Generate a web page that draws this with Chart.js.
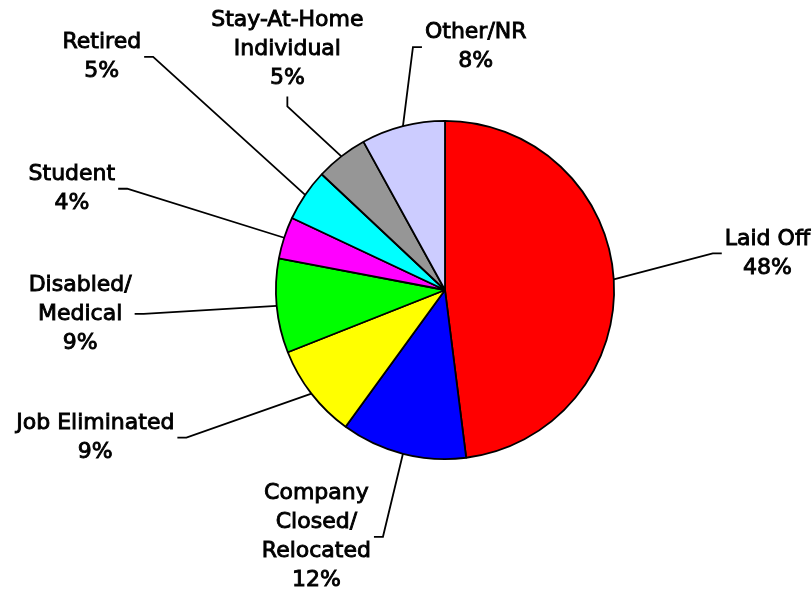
<!DOCTYPE html>
<html>
<head>
<meta charset="utf-8">
<title>Reasons for Job Loss</title>
<script src="https://cdn.jsdelivr.net/npm/chart.js@4.4.1/dist/chart.umd.min.js"></script>
<style>
  html, body { margin: 0; padding: 0; background: #fff; }
  #wrap { width: 812px; height: 590px; }
</style>
</head>
<body>
<div id="wrap"><canvas id="pieChart" width="812" height="590"></canvas></div>
<script>
// Slices, clockwise from 12 o'clock
const categories = [
  "Laid Off",
  "Company Closed/Relocated",
  "Job Eliminated",
  "Disabled/Medical",
  "Student",
  "Retired",
  "Stay-At-Home Individual",
  "Other/NR",
];
const percentages = [48, 12, 9, 9, 4, 5, 5, 8];
// How each category name wraps in its callout
const labelLines = [
  ["Laid Off"],
  ["Company", "Closed/", "Relocated"],
  ["Job Eliminated"],
  ["Disabled/", "Medical"],
  ["Student"],
  ["Retired"],
  ["Stay-At-Home", "Individual"],
  ["Other/NR"],
];
const sliceColors = [
  "#ff0000",
  "#0000ff",
  "#ffff00",
  "#00ff00",
  "#ff00ff",
  "#00ffff",
  "#969696",
  "#ccccff",
];

// Callout placement: elbow offset from the slice edge, and stub direction
const calloutLayout = [
  { dx: 99, dy: -26, stub: "right" },
  { dx: -20, dy: 83, stub: "left" },
  { dx: -125, dy: 44, stub: "left" },
  { dx: -133, dy: 8, stub: "left" },
  { dx: -157, dy: -49, stub: "left" },
  { dx: -152, dy: -138, stub: "left" },
  { dx: -54, dy: -50, stub: "up" },
  { dx: 10, dy: -79, stub: "right" },
];

const labelFont = "22px 'DejaVu Sans', Verdana, sans-serif";
const lineHeight = 29;

// Draws the leader lines and the category / percent text
const calloutPlugin = {
  id: "callouts",
  afterDatasetsDraw(chart) {
    const ctx = chart.ctx;
    const meta = chart.getDatasetMeta(0);
    ctx.save();
    ctx.font = labelFont;
    ctx.fillStyle = "#000";
    ctx.strokeStyle = "#000";
    ctx.lineWidth = 1.8;
    ctx.lineJoin = "miter";
    ctx.textAlign = "center";
    ctx.textBaseline = "middle";

    meta.data.forEach((arc, i) => {
      const { x, y, startAngle, endAngle, outerRadius } = arc.getProps(
        ["x", "y", "startAngle", "endAngle", "outerRadius"],
        true
      );
      const mid = (startAngle + endAngle) / 2;
      const ex = x + Math.cos(mid) * outerRadius;
      const ey = y + Math.sin(mid) * outerRadius;
      const layout = calloutLayout[i];
      const bx = ex + layout.dx;
      const by = ey + layout.dy;
      let sx = bx;
      let sy = by;
      if (layout.stub === "right") sx = bx + 9;
      else if (layout.stub === "left") sx = bx - 9;
      else sy = by - 10;

      ctx.lineWidth = 1.8;
      ctx.beginPath();
      ctx.moveTo(ex, ey);
      ctx.lineTo(bx, by);
      ctx.lineTo(sx, sy);
      ctx.stroke();

      const lines = labelLines[i].concat([percentages[i] + "%"]);
      const blockW = Math.max(...lines.map((t) => ctx.measureText(t).width));
      const n = lines.length;
      let cx, firstY;
      if (layout.stub === "right") {
        cx = sx + 3 + blockW / 2;
        firstY = sy - ((n - 1) * lineHeight) / 2;
      } else if (layout.stub === "left") {
        cx = sx - 3 - blockW / 2;
        firstY = sy - ((n - 1) * lineHeight) / 2;
      } else {
        cx = sx;
        firstY = sy - 18 - (n - 1) * lineHeight;
      }
      // thin outline thickens the regular face to the semi-bold look
      ctx.lineWidth = 0.9;
      lines.forEach((t, k) => {
        ctx.fillText(t, cx, firstY + k * lineHeight);
        ctx.strokeText(t, cx, firstY + k * lineHeight);
      });
    });
    ctx.restore();
  },
};

const ctx = document.getElementById("pieChart").getContext("2d");

const pieChart = new Chart(ctx, {
  type: "pie",
  data: {
    labels: categories,
    datasets: [
      {
        data: percentages,
        backgroundColor: sliceColors,
        borderColor: "#000",
        borderWidth: 1.8,
        hoverOffset: 0,
      },
    ],
  },
  options: {
    responsive: false,
    animation: false,
    events: [],
    layout: {
      padding: {
        top: 120,
        bottom: 130,
        left: 275,
        right: 197,
      },
    },
    plugins: {
      legend: { display: false },
      tooltip: { enabled: false },
      title: { display: false },
    },
  },
  plugins: [calloutPlugin],
});
</script>
</body>
</html>
